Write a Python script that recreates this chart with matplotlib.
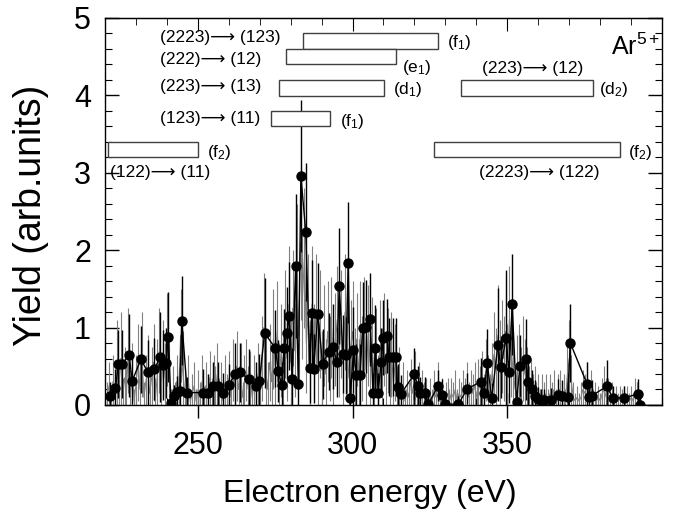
import numpy as np
import matplotlib
matplotlib.use("Agg")
import matplotlib.pyplot as plt
from matplotlib.patches import Rectangle
from matplotlib.ticker import MultipleLocator, FixedLocator

plt.rcParams['font.family'] = ['Liberation Sans', 'DejaVu Sans']
plt.rcParams['mathtext.fontset'] = 'custom'
plt.rcParams['mathtext.rm'] = 'Liberation Sans'
plt.rcParams['mathtext.it'] = 'Liberation Sans'

# coarse spectrum (black points with error bars)
energy = [221.7, 223.4, 224.3, 225.4, 227.8, 228.8, 231.6, 233.9, 236.0, 237.8,
          238.6, 239.7, 240.5, 241.3, 242.3, 243.3, 244.2, 244.8, 246.6, 251.7,
          253.4, 255.0, 256.6, 258.2, 260.1, 262.0, 263.6, 266.4, 268.9, 269.9,
          271.6, 275.1, 276.0, 277.1, 277.9, 278.8, 279.6, 280.5, 281.6, 282.5,
          283.3, 284.9, 286.2, 286.8, 287.4, 288.8, 290.3, 292.3, 293.7, 294.9,
          295.7, 296.9, 297.9, 298.6, 299.3, 300.3, 301.2, 302.4, 303.3, 304.2,
          305.7, 306.6, 307.4, 308.3, 309.2, 310.0, 311.1, 311.8, 313.0, 314.0,
          314.6, 315.6, 320.0, 321.0, 321.8, 323.3, 324.5, 327.7, 328.9, 329.9,
          334.2, 337.1, 341.5, 342.5, 343.5, 345.0, 347.0, 347.9, 349.6, 350.6,
          351.6, 353.0, 354.1, 356.0, 356.8, 357.9, 359.0, 360.0, 361.0, 362.0,
          364.2, 366.5, 367.7, 369.5, 370.4, 375.8, 376.4, 377.3, 382.2, 384.1,
          387.6, 392.1, 393.0]
yield_ = [0.11, 0.22, 0.53, 0.53, 0.64, 0.31, 0.59, 0.42, 0.46, 0.62,
          0.52, 0.54, 0.88, 0.03, 0.11, 0.17, 0.18, 1.09, 0.16, 0.16,
          0.15, 0.25, 0.25, 0.16, 0.26, 0.40, 0.42, 0.34, 0.25, 0.31,
          0.93, 0.73, 0.44, 0.26, 0.74, 0.93, 1.15, 0.34, 1.79, 0.27,
          2.96, 2.23, 0.48, 1.19, 0.47, 1.17, 0.53, 0.69, 0.75, 0.55,
          1.54, 0.66, 0.64, 1.84, 0.09, 0.71, 0.39, 0.39, 0.99, 1.01,
          1.11, 0.16, 0.74, 0.16, 0.55, 0.87, 0.89, 0.62, 0.62, 0.62,
          0.23, 0.14, 0.40, 0.25, 0.16, 0.16, 0.01, 0.25, 0.13, 0.01,
          0.01, 0.21, 0.30, 0.16, 0.54, 0.09, 0.78, 0.49, 0.86, 0.43,
          1.30, 0.04, 0.50, 0.59, 0.30, 0.20, 0.12, 0.08, 0.06, 0.06,
          0.07, 0.13, 0.12, 0.10, 0.80, 0.27, 0.10, 0.12, 0.24, 0.09,
          0.09, 0.14, 0.00]
yield_err = [0.19, 0.25, 0.44, 0.44, 0.54, 0.30, 0.43, 0.42, 0.40, 0.58,
             0.45, 0.45, 0.58, 0.10, 0.15, 0.20, 0.30, 0.57, 0.20, 0.30,
             0.25, 0.30, 0.30, 0.25, 0.27, 0.40, 0.38, 0.38, 0.30, 0.35,
             0.71, 0.50, 0.40, 0.30, 0.50, 0.60, 0.70, 0.40, 0.93, 0.35,
             0.98, 0.89, 0.45, 0.68, 0.45, 0.66, 0.45, 0.50, 0.55, 0.45,
             0.75, 0.50, 0.50, 0.78, 0.20, 0.55, 0.40, 0.40, 0.60, 0.60,
             0.60, 0.25, 0.55, 0.25, 0.45, 0.48, 0.48, 0.50, 0.50, 0.50,
             0.30, 0.25, 0.34, 0.25, 0.20, 0.20, 0.10, 0.20, 0.20, 0.10,
             0.10, 0.20, 0.31, 0.20, 0.44, 0.20, 0.73, 0.40, 0.88, 0.40,
             0.65, 0.15, 0.40, 0.52, 0.30, 0.25, 0.20, 0.15, 0.15, 0.15,
             0.15, 0.20, 0.20, 0.20, 0.50, 0.28, 0.20, 0.20, 0.34, 0.15,
             0.15, 0.20, 0.10]

# fine spectrum (grey), equally spaced bins
fine_start = 220.7
fine_step = 0.625
fine_val = [
    0.10, 0.25, 0.05, 0.30, 0.15, 0.55, 0.20, 0.60, 0.10, 0.35, 0.20, 0.70, 0.15, 0.40, 0.05, 0.30, 0.55, 0.20, 0.65, 0.10,
    0.30, 0.45, 0.15, 0.35, 0.55, 0.10, 0.40, 0.70, 0.25, 0.60, 0.35, 0.85, 0.40, 0.05, 0.20, 0.10, 0.30, 0.15, 0.90, 0.45,
    0.20, 0.10, 0.30, 0.05, 0.15, 0.25, 0.05, 0.20, 0.10, 0.30, 0.05, 0.25, 0.15, 0.35, 0.10, 0.30, 0.20, 0.40, 0.10, 0.25,
    0.05, 0.30, 0.15, 0.35, 0.10, 0.45, 0.25, 0.50, 0.20, 0.40, 0.10, 0.30, 0.45, 0.20, 0.35, 0.10, 0.30, 0.20, 0.40, 0.15,
    0.60, 1.00, 0.45, 0.20, 0.55, 0.30, 0.85, 0.50, 0.95, 0.35, 0.70, 0.45, 1.05, 0.60, 1.30, 0.55, 1.25, 0.70, 1.70, 0.90,
    2.10, 1.40, 1.90, 0.80, 1.20, 0.55, 1.30, 0.70, 1.20, 0.50, 1.05, 0.45, 0.90, 0.40, 0.95, 0.60, 1.00, 0.50, 0.85, 1.10,
    0.70, 1.05, 0.55, 1.20, 0.80, 0.35, 0.75, 0.95, 0.50, 0.85, 0.40, 0.95, 0.60, 1.00, 0.45, 0.90, 0.55, 0.80, 0.35, 0.70,
    0.25, 0.75, 0.50, 0.85, 0.40, 0.70, 0.45, 0.65, 0.30, 0.55, 0.20, 0.35, 0.10, 0.25, 0.05, 0.20, 0.10, 0.30, 0.15, 0.35,
    0.10, 0.25, 0.05, 0.20, 0.10, 0.15, 0.05, 0.15, 0.05, 0.20, 0.10, 0.25, 0.05, 0.15, 0.05, 0.10, 0.15, 0.05, 0.15, 0.10,
    0.20, 0.05, 0.15, 0.10, 0.20, 0.15, 0.25, 0.10, 0.20, 0.15, 0.25, 0.10, 0.30, 0.20, 0.35, 0.15, 0.45, 0.30, 0.15, 0.40,
    0.65, 0.50, 0.90, 0.55, 0.75, 0.60, 0.95, 0.50, 1.10, 0.70, 0.40, 0.20, 0.45, 0.55, 0.35, 0.60, 0.40, 0.35, 0.20, 0.25,
    0.15, 0.20, 0.10, 0.15, 0.05, 0.15, 0.10, 0.15, 0.05, 0.15, 0.10, 0.20, 0.05, 0.15, 0.20, 0.10, 0.15, 0.05, 0.40, 0.60,
    0.30, 0.10, 0.05, 0.10, 0.05, 0.10, 0.20, 0.15, 0.25, 0.10, 0.20, 0.05, 0.10, 0.05, 0.10, 0.05, 0.15, 0.20, 0.10, 0.15,
    0.05, 0.10, 0.05, 0.10, 0.05, 0.10, 0.05, 0.10, 0.05, 0.10, 0.05, 0.10, 0.05, 0.15, 0.10, 0.05, 0.02, 0.00, 0.00, 0.00,
    0.00, 0.00, 0.00, 0.00, 0.00, 0.00, 0.00, 0.00, 0.00, 0.03, 0.00, 0.00]
fine_err = [
    0.20, 0.30, 0.15, 0.35, 0.25, 0.55, 0.35, 0.60, 0.25, 0.40, 0.30, 0.55, 0.30, 0.40, 0.15, 0.35, 0.50, 0.35, 0.55, 0.20,
    0.35, 0.45, 0.30, 0.40, 0.50, 0.25, 0.45, 0.55, 0.35, 0.50, 0.45, 0.60, 0.45, 0.15, 0.30, 0.20, 0.35, 0.30, 0.60, 0.50,
    0.30, 0.25, 0.35, 0.15, 0.25, 0.30, 0.15, 0.25, 0.20, 0.35, 0.20, 0.30, 0.25, 0.35, 0.25, 0.35, 0.30, 0.40, 0.25, 0.30,
    0.20, 0.35, 0.25, 0.35, 0.25, 0.40, 0.35, 0.45, 0.30, 0.40, 0.20, 0.35, 0.40, 0.30, 0.35, 0.25, 0.35, 0.30, 0.40, 0.30,
    0.55, 0.70, 0.45, 0.35, 0.50, 0.40, 0.65, 0.50, 0.65, 0.45, 0.60, 0.50, 0.70, 0.55, 0.75, 0.55, 0.75, 0.60, 0.90, 0.70,
    1.00, 0.80, 0.90, 0.65, 0.75, 0.55, 0.75, 0.60, 0.75, 0.50, 0.70, 0.50, 0.65, 0.45, 0.65, 0.55, 0.65, 0.50, 0.60, 0.70,
    0.60, 0.70, 0.55, 0.75, 0.65, 0.45, 0.60, 0.65, 0.50, 0.60, 0.45, 0.65, 0.55, 0.65, 0.50, 0.65, 0.55, 0.60, 0.45, 0.55,
    0.40, 0.60, 0.50, 0.60, 0.45, 0.55, 0.50, 0.55, 0.40, 0.50, 0.30, 0.40, 0.20, 0.30, 0.15, 0.25, 0.20, 0.30, 0.25, 0.35,
    0.20, 0.30, 0.15, 0.25, 0.20, 0.20, 0.10, 0.20, 0.15, 0.25, 0.20, 0.30, 0.15, 0.20, 0.10, 0.20, 0.20, 0.15, 0.20, 0.20,
    0.25, 0.15, 0.20, 0.20, 0.25, 0.20, 0.30, 0.20, 0.25, 0.25, 0.30, 0.20, 0.30, 0.30, 0.35, 0.25, 0.40, 0.35, 0.25, 0.40,
    0.55, 0.50, 0.65, 0.55, 0.60, 0.55, 0.70, 0.55, 0.70, 0.60, 0.45, 0.30, 0.45, 0.50, 0.40, 0.55, 0.45, 0.40, 0.30, 0.35,
    0.25, 0.30, 0.20, 0.25, 0.15, 0.25, 0.20, 0.25, 0.15, 0.25, 0.20, 0.25, 0.15, 0.25, 0.25, 0.20, 0.25, 0.15, 0.40, 0.50,
    0.35, 0.20, 0.10, 0.15, 0.10, 0.20, 0.25, 0.25, 0.30, 0.20, 0.25, 0.15, 0.20, 0.10, 0.15, 0.10, 0.20, 0.30, 0.25, 0.20,
    0.15, 0.20, 0.10, 0.15, 0.10, 0.15, 0.15, 0.15, 0.10, 0.15, 0.10, 0.15, 0.10, 0.20, 0.20, 0.10, 0.05, 0.00, 0.00, 0.00,
    0.00, 0.00, 0.00, 0.00, 0.00, 0.00, 0.00, 0.00, 0.00, 0.06, 0.00, 0.00]
fine_energy = fine_start + fine_step * np.arange(len(fine_val))

x_ticks = [250, 300, 350]

# transition energy windows: (E_low, E_high, y_low, y_high)
bands = [
    (284.0, 327.6, 4.60, 4.81),   # (2223)->(123) f1
    (278.4, 314.0, 4.40, 4.60),   # (222)->(12)   e1
    (276.3, 310.2, 3.99, 4.20),   # (223)->(13)   d1
    (273.6, 292.7, 3.60, 3.80),   # (123)->(11)   f1
    (220.9, 250.1, 3.20, 3.40),   # (122)->(11)   f2
    (335.1, 377.8, 3.99, 4.20),   # (223)->(12)   d2
    (326.3, 386.5, 3.20, 3.40),   # (2223)->(122) f2
]

fig = plt.figure(figsize=(6.83, 5.2), dpi=100)
ax = fig.add_axes([0.1537, 0.2212, 0.8155, 0.7442])

ax.errorbar(fine_energy, fine_val, yerr=fine_err, fmt='-', color='0.5',
            lw=0.8, elinewidth=0.8, capsize=0, zorder=2)
ax.errorbar(energy, yield_, yerr=yield_err, fmt='o-', color='k', ms=6.5,
            lw=1.0, elinewidth=1.0, capsize=0, zorder=3)

for e0, e1, y0, y1 in bands:
    ax.add_patch(Rectangle((e0, y0), e1 - e0, y1 - y0, fill=True,
                           facecolor='white', edgecolor='0.25', lw=1.0, zorder=4))

fs = 12.5
arrow = '\u27f6'
ax.text(237.8, 4.75, f'(2223){arrow} (123)', fontsize=fs, va='center')
ax.text(237.8, 4.46, f'(222){arrow} (12)', fontsize=fs, va='center')
ax.text(237.8, 4.11, f'(223){arrow} (13)', fontsize=fs, va='center')
ax.text(237.8, 3.70, f'(123){arrow} (11)', fontsize=fs, va='center')
ax.text(221.7, 3.00, f'(122){arrow} (11)', fontsize=fs, va='center')
ax.text(360.3, 3.00, f'(2223){arrow} (122)', fontsize=fs, va='center', ha='center')
ax.text(341.9, 4.35, f'(223){arrow} (12)', fontsize=fs, va='center')

ax.text(330.5, 4.68, '(f$_1$)', fontsize=fs, va='center')
ax.text(316.0, 4.36, '(e$_1$)', fontsize=fs, va='center')
ax.text(313.1, 4.08, '(d$_1$)', fontsize=fs, va='center')
ax.text(295.9, 3.66, '(f$_1$)', fontsize=fs, va='center')
ax.text(253.0, 3.26, '(f$_2$)', fontsize=fs, va='center')
ax.text(379.7, 4.08, '(d$_2$)', fontsize=fs, va='center')
ax.text(389.1, 3.26, '(f$_2$)', fontsize=fs, va='center')

ax.text(0.997, 0.905, 'Ar$^{5+}$', transform=ax.transAxes, fontsize=18,
        ha='right', va='baseline')

ax.set_xlim(220, 400)
ax.set_ylim(0, 5)
ax.xaxis.set_major_locator(FixedLocator(x_ticks))
ax.xaxis.set_minor_locator(MultipleLocator(10))
ax.yaxis.set_major_locator(MultipleLocator(1))
ax.yaxis.set_minor_locator(MultipleLocator(0.2))

ax.tick_params(axis='x', which='major', direction='inout', length=18,
               width=1.0, labelsize=22, pad=10)
ax.tick_params(axis='x', which='minor', direction='in', length=5, width=0.8)
ax.tick_params(axis='y', which='major', direction='in', length=10, width=1.0,
               labelsize=22, right=True, pad=10)
ax.tick_params(axis='y', which='minor', direction='in', length=5, width=0.8,
               right=True)

top = ax.secondary_xaxis('top')
top.xaxis.set_major_locator(FixedLocator(x_ticks))
top.xaxis.set_minor_locator(MultipleLocator(10))
top.tick_params(which='major', direction='in', length=9, labeltop=False)
top.tick_params(which='minor', direction='in', length=5)

for sp in ax.spines.values():
    sp.set_linewidth(1.0)

ax.set_xlabel('Electron energy (eV)', fontsize=23)
ax.xaxis.set_label_coords(0.476, -0.19)
ax.set_ylabel('Yield (arb.units)', fontsize=27)
ax.yaxis.set_label_coords(-0.1, 0.49)

fig.savefig('out.png', dpi=100)
